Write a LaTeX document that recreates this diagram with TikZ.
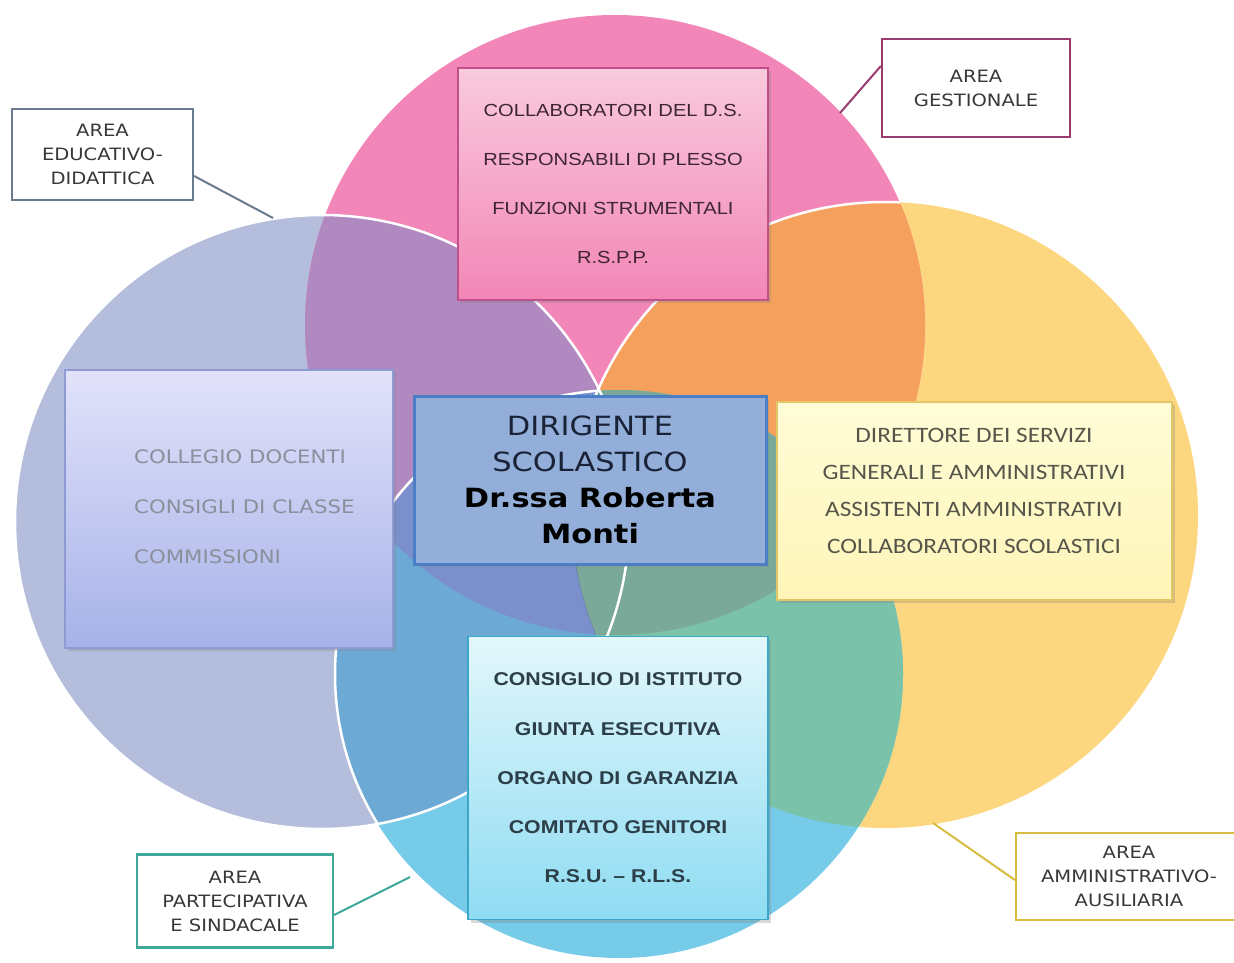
\documentclass[tikz,border=0pt]{standalone}
\usepackage{fontspec}
\setmainfont{DejaVu Sans}
\newfontfamily\fdv[FakeStretch=1.15]{DejaVu Sans}
\newfontfamily\flib[FakeStretch=1.15]{Liberation Sans}
\newfontfamily\fcar[FakeStretch=1.15]{Carlito}
\usetikzlibrary{shadows}
\definecolor{cPink}{HTML}{F386B8}
\definecolor{cLeft}{HTML}{B4BEDC}
\definecolor{cRight}{HTML}{FCD77F}
\definecolor{cBot}{HTML}{76CBE8}
\definecolor{cPL}{HTML}{B189C1}
\definecolor{cPR}{HTML}{F5A15D}
\definecolor{cLB}{HTML}{6DA9D5}
\definecolor{cRB}{HTML}{7BC2AB}
\definecolor{cPLB}{HTML}{7A8FCB}
\definecolor{cPRB}{HTML}{7AA99A}
\definecolor{cEdu}{HTML}{6B7B8E}
\definecolor{cGes}{HTML}{9A3C70}
\definecolor{cPar}{HTML}{40A898}
\definecolor{cAmm}{HTML}{D8BC40}
\definecolor{pinkTop}{HTML}{F9CADD}
\definecolor{pinkBot}{HTML}{F386B6}
\definecolor{pinkLine}{HTML}{C0508A}
\definecolor{pinkText}{HTML}{3E2533}
\definecolor{lavTop}{HTML}{E2E2FA}
\definecolor{lavBot}{HTML}{A6B2E8}
\definecolor{lavLine}{HTML}{8E9BD3}
\definecolor{lavText}{HTML}{8B8F9C}
\definecolor{dsFill}{HTML}{93AFD9}
\definecolor{dsLine}{HTML}{4B7EC4}
\definecolor{dsText}{HTML}{1A2238}
\definecolor{yelTop}{HTML}{FFFDD8}
\definecolor{yelBot}{HTML}{FFF5B8}
\definecolor{yelLine}{HTML}{E2C766}
\definecolor{yelText}{HTML}{55554A}
\definecolor{cyTop}{HTML}{E3F7FC}
\definecolor{cyBot}{HTML}{8FDCF2}
\definecolor{cyLine}{HTML}{3BA6C8}
\definecolor{cyText}{HTML}{2C3E48}
\newcommand\pathP{(615,325) circle[radius=310pt]}
\newcommand\pathL{(322,522) circle[radius=307pt]}
\newcommand\pathR{(885,515) circle[radius=313pt]}
\newcommand\pathB{(619,674) circle[radius=284pt]}
\begin{document}
\begin{tikzpicture}[x=1pt,y=-1pt,
  shad/.style={drop shadow={opacity=0.3,shadow xshift=3pt,shadow yshift=-3pt}},
  lbl/.style={draw,fill=white,line width=2.2pt,align=center,inner sep=0pt,
    font=\fdv\fontsize{17}{24}\selectfont,text=black!78},
  pinkbox/.style={shad,draw=pinkLine,line width=1.5pt,top color=pinkTop,bottom color=pinkBot,
    align=center,inner sep=0pt,font=\flib\fontsize{17.5}{49}\selectfont,text=pinkText},
  leftbox/.style={shad,draw=lavLine,line width=1.2pt,top color=lavTop,bottom color=lavBot,inner sep=0pt},
  centerbox/.style={shad,draw=dsLine,line width=3pt,fill=dsFill,align=center,inner sep=0pt,
    font=\fdv\fontsize{26.5}{36}\selectfont,text=dsText},
  rightbox/.style={shad,draw=yelLine,line width=1.5pt,top color=yelTop,bottom color=yelBot,inner sep=0pt},
  botbox/.style={shad,draw=cyLine,line width=1.5pt,top color=cyTop,bottom color=cyBot,
    align=center,inner sep=0pt,font=\flib\bfseries\fontsize{18.5}{49.2}\selectfont,text=cyText},
  conn/.style={line width=2pt}]
\useasboundingbox (0,0) rectangle (1234,963);
\fill[white] (0,0) rectangle (1234,963);
\begin{scope}
\clip (0,0) rectangle (1234,963);
% circles
\fill[cLeft] \pathL;
\fill[cRight] \pathR;
\fill[cPink] \pathP;
\fill[cBot] \pathB;
\begin{scope}
  \clip \pathP;
  \fill[cPL] \pathL;
  \fill[cPR] \pathR;
\end{scope}
\begin{scope}
  \clip \pathB;
  \fill[cLB] \pathL;
  \fill[cRB] \pathR;
\end{scope}
\begin{scope}
  \clip \pathP;
  \clip \pathB;
  \fill[cPLB] \pathL;
  \fill[cPRB] \pathR;
\end{scope}
% white edges
\draw[white,line width=2.5pt] \pathL;
\begin{scope}
  \clip \pathP;
  \clip (0,0) rectangle (1234,560);
  \draw[white,line width=2.5pt] \pathR;
\end{scope}
\begin{scope}
  \clip \pathP;
  \clip (0,560) rectangle (1234,963);
  \draw[cPLB!80!black,line width=0.8pt,opacity=0.5] \pathR;
\end{scope}
\begin{scope}
  \clip \pathL;
  \draw[white,line width=2.5pt] \pathB;
\end{scope}
\end{scope}
% connector ends
\coordinate (e1) at (273,218);
\coordinate (e2) at (840,113);
\coordinate (e3) at (410,877);
\coordinate (e4) at (933,823);
% content boxes
\node[pinkbox,minimum width=310pt,minimum height=232pt] (gest) at (613,184)
  {COLLABORATORI DEL D.S.\\RESPONSABILI DI PLESSO\\FUNZIONI STRUMENTALI\\R.S.P.P.};
\node[leftbox,minimum width=328pt,minimum height=278pt] (edu) at (229,509) {};
\node[anchor=west,align=left,inner sep=0pt,font=\fdv\fontsize{18.5}{50}\selectfont,text=lavText]
  (edutext) at (134,507) {COLLEGIO DOCENTI\\CONSIGLI DI CLASSE\\COMMISSIONI};
\node[rightbox,minimum width=395pt,minimum height=198pt] (amm) at (974.5,501) {};
\node[align=center,inner sep=0pt,font=\fcar\fontsize{22}{37}\selectfont,text=yelText]
  (ammtext) at (974,491) {DIRETTORE DEI SERVIZI\\GENERALI E AMMINISTRATIVI\\ASSISTENTI AMMINISTRATIVI\\COLLABORATORI SCOLASTICI};
\node[botbox,minimum width=300pt,minimum height=283pt] (part) at (618,778)
  {CONSIGLIO DI ISTITUTO\\GIUNTA ESECUTIVA\\ORGANO DI GARANZIA\\COMITATO GENITORI\\R.S.U. – R.L.S.};
\node[centerbox,minimum width=352pt,minimum height=168pt] (ds) at (590,480)
  {DIRIGENTE\\SCOLASTICO\\{\color{black}\bfseries Dr.ssa Roberta}\\{\color{black}\bfseries Monti}};
% area labels
\node[lbl,draw=cEdu,minimum width=181pt,minimum height=91pt] (L1) at (102.5,154.5) {AREA\\EDUCATIVO-\\DIDATTICA};
\node[lbl,draw=cGes,minimum width=188pt,minimum height=98pt] (L2) at (976,88) {AREA\\GESTIONALE};
\node[lbl,draw=cPar,minimum width=196pt,minimum height=93pt] (L3) at (235,901) {AREA\\PARTECIPATIVA\\E SINDACALE};
\node[lbl,draw=cAmm,minimum width=226pt,minimum height=87pt] (L4) at (1129,876.5) {AREA\\AMMINISTRATIVO-\\AUSILIARIA};
\draw[conn,cEdu] ([yshift=-21.5pt]L1.east) -- (e1);
\draw[conn,cGes] ([yshift=22pt]L2.west) -- (e2);
\draw[conn,cPar] ([yshift=-14pt]L3.east) -- (e3);
\draw[conn,cAmm] ([yshift=-3.5pt]L4.west) -- (e4);
\end{tikzpicture}
\end{document}
